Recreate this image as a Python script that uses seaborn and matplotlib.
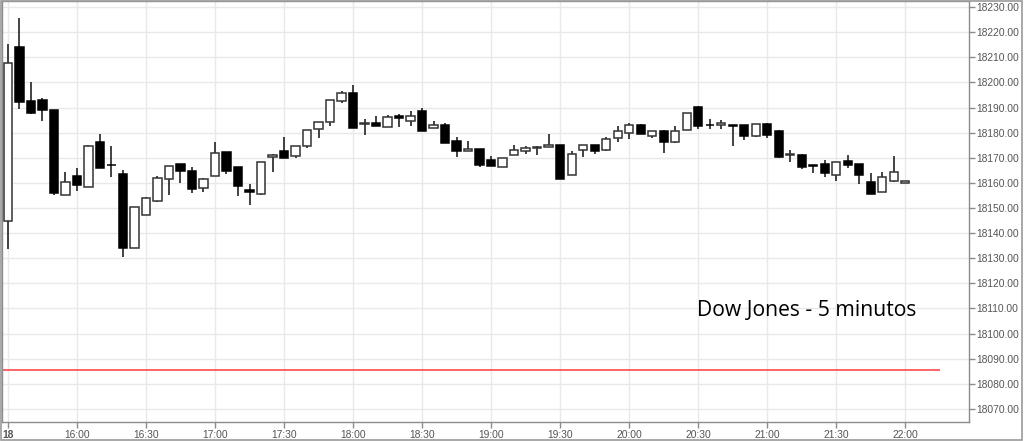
import seaborn as sns
import matplotlib.pyplot as plt
import matplotlib.patches as mpatches
import numpy as np
import pandas as pd

# ======================
# 数据 (Dow Jones, 5 min candles)
# ======================
times = pd.date_range("2016-01-18 15:30", periods=79, freq="5min")

opens = [18144.7, 18214.1, 18192.4, 18193.1, 18189.2, 18155.2, 18162.8, 18158.5, 18176.4, 18167.3,
         18163.6, 18134.2, 18147.4, 18152.8, 18161.6, 18167.5, 18164.6, 18158.1, 18162.8, 18172.4,
         18166.2, 18157.2, 18155.6, 18170.3, 18172.7, 18170.5, 18174.7, 18181.4, 18184.2, 18192.7,
         18195.6, 18183.4, 18183.8, 18182.1, 18186.5, 18184.7, 18188.5, 18182.0, 18183.2, 18176.8,
         18172.6, 18173.4, 18169.1, 18166.5, 18170.9, 18172.6, 18173.9, 18174.4, 18175.2, 18163.2,
         18173.1, 18175.1, 18173.2, 18177.9, 18179.9, 18183.0, 18178.5, 18180.8, 18176.1, 18181.0,
         18190.4, 18183.1, 18183.0, 18183.0, 18183.2, 18178.7, 18183.4, 18180.8, 18171.1, 18171.0,
         18167.3, 18167.6, 18163.2, 18168.9, 18167.6, 18160.3, 18156.4, 18160.9, 18159.9]
highs = [18215.2, 18225.5, 18200.0, 18193.7, 18189.2, 18164.2, 18165.8, 18175.1, 18179.5, 18174.6,
         18165.2, 18150.2, 18154.5, 18162.8, 18166.9, 18167.5, 18166.2, 18162.0, 18176.4, 18172.4,
         18166.2, 18159.6, 18168.5, 18171.5, 18178.4, 18174.7, 18181.0, 18184.1, 18192.8, 18196.7,
         18198.9, 18185.4, 18186.7, 18187.1, 18187.4, 18188.7, 18190.0, 18184.7, 18183.8, 18178.4,
         18176.8, 18173.4, 18170.5, 18169.8, 18175.1, 18174.8, 18174.8, 18179.5, 18175.2, 18172.6,
         18175.1, 18175.1, 18178.4, 18182.8, 18183.8, 18183.4, 18180.5, 18181.0, 18182.8, 18187.8,
         18190.7, 18185.3, 18185.0, 18183.0, 18183.2, 18183.4, 18183.7, 18181.1, 18172.9, 18171.5,
         18167.3, 18169.1, 18168.5, 18171.1, 18167.6, 18164.0, 18164.5, 18170.7, 18160.9]
lows = [18133.8, 18189.4, 18187.4, 18184.5, 18155.3, 18155.2, 18156.8, 18158.5, 18166.0, 18162.3,
        18130.3, 18134.2, 18147.4, 18152.5, 18155.2, 18160.1, 18156.0, 18156.3, 18162.8, 18163.6,
        18154.6, 18151.3, 18155.0, 18164.2, 18169.7, 18169.8, 18173.9, 18177.7, 18182.8, 18191.8,
        18181.8, 18179.1, 18182.5, 18182.1, 18182.1, 18182.8, 18180.5, 18182.0, 18175.9, 18170.2,
        18172.6, 18166.5, 18166.6, 18166.5, 18170.9, 18171.5, 18171.1, 18174.4, 18161.6, 18163.2,
        18170.2, 18171.5, 18172.8, 18176.1, 18177.5, 18179.5, 18177.7, 18171.8, 18175.9, 18181.0,
        18181.3, 18181.4, 18181.4, 18174.8, 18177.1, 18178.4, 18177.9, 18169.9, 18168.2, 18165.6,
        18164.0, 18162.4, 18160.9, 18166.0, 18159.6, 18155.7, 18156.4, 18160.3, 18159.9]
closes = [18207.9, 18192.0, 18187.8, 18189.1, 18155.9, 18160.3, 18159.3, 18174.8, 18166.0, 18167.0,
          18133.9, 18150.2, 18154.0, 18161.8, 18166.7, 18164.6, 18157.4, 18161.5, 18171.9, 18164.9,
          18158.8, 18156.4, 18168.5, 18171.1, 18169.7, 18174.7, 18181.0, 18184.1, 18192.8, 18195.6,
          18182.0, 18183.4, 18182.5, 18186.1, 18185.7, 18186.7, 18180.8, 18182.9, 18175.9, 18172.6,
          18173.5, 18167.3, 18166.6, 18169.8, 18172.9, 18173.8, 18173.9, 18175.2, 18161.6, 18171.3,
          18175.1, 18172.8, 18177.5, 18180.6, 18183.0, 18179.5, 18180.5, 18176.4, 18180.5, 18187.8,
          18182.5, 18182.9, 18184.0, 18182.6, 18178.8, 18183.4, 18179.1, 18170.2, 18171.1, 18166.5,
          18166.8, 18164.1, 18168.5, 18167.3, 18163.1, 18155.7, 18162.3, 18164.5, 18160.9]

tick_times = ["15:30", "16:00", "16:30", "17:00", "17:30", "18:00", "18:30",
              "19:00", "19:30", "20:00", "20:30", "21:00", "21:30", "22:00"]
tick_labels = ["18"] + tick_times[1:]
y_ticks = list(range(18070, 18231, 10))

ref_level = 18085.5
ref_end = "22:15"
title_text = "Dow Jones - 5 minutos"


def to_min(t):
    h, m = t.split(":")
    return int(h) * 60 + int(m)


df = pd.DataFrame({"t": times, "open": opens, "high": highs, "low": lows, "close": closes})
df["x"] = df["t"].dt.hour * 60 + df["t"].dt.minute
df["up"] = df["close"] >= df["open"]

# ======================
# 风格
# ======================
sns.set_theme(style="whitegrid", rc={
    "grid.color": "#e9e9e9",
    "grid.linewidth": 1.0,
    "axes.edgecolor": "#8c8c8c",
    "axes.linewidth": 1.0,
})
plt.rcParams["font.family"] = ["Liberation Sans", "DejaVu Sans"]

fig = plt.figure(figsize=(10.24, 4.41), dpi=100)
ax = fig.add_axes([2 / 1024, 1 - 422 / 441, 967 / 1024, 421 / 441])
ax.set_facecolor("white")

# wicks
ax.vlines(df["x"], df["low"], df["high"], color="#222222", linewidth=1.2, zorder=2)

# bodies
body_w = 3.5
bottom = np.minimum(df["open"], df["close"])
height = np.maximum(np.abs(df["close"] - df["open"]), 0.3)
face = np.where(df["up"], "white", "black")
edge = np.where(df["up"], "#333333", "black")
ax.bar(df["x"], height, bottom=bottom, width=body_w, color=face,
       edgecolor=edge, linewidth=1.1, zorder=3)

# reference line
ax.hlines(ref_level, 927.4, to_min(ref_end), color="#ff3b3b", linewidth=1.1, zorder=2)

ax.text(1229.6, 18109.3, title_text, fontsize=15.2, family=["Open Sans", "DejaVu Sans"],
        color="black", ha="left", va="center")

# axes
ax.set_xlim(927.4, 1347.8)
ax.set_ylim(18064.8, 18232.4)
ax.set_xticks([to_min(t) for t in tick_times])
ax.set_xticklabels(tick_labels)
ax.set_yticks(y_ticks)
ax.set_yticklabels([f"{v:.2f}" for v in y_ticks])
ax.yaxis.tick_right()
ax.tick_params(axis="both", labelsize=7.4, labelcolor="#555555", color="#8c8c8c",
               length=4, width=1, pad=2)
ax.tick_params(axis="y", right=True, left=False, pad=1.5)
ax.tick_params(axis="x", bottom=True)
ax.get_xticklabels()[0].set_fontweight("bold")
for s in ax.spines.values():
    s.set_color("#8c8c8c")
ax.grid(True, zorder=0)
ax.set_axisbelow(True)

# outer frame
fig.patches.append(mpatches.Rectangle((0.5 / 1024, 1.5 / 441), 1021 / 1024, 439 / 441,
                                      transform=fig.transFigure, fill=False,
                                      edgecolor="#9a9a9a", linewidth=1.2))

fig.savefig("out.png", dpi=100)
